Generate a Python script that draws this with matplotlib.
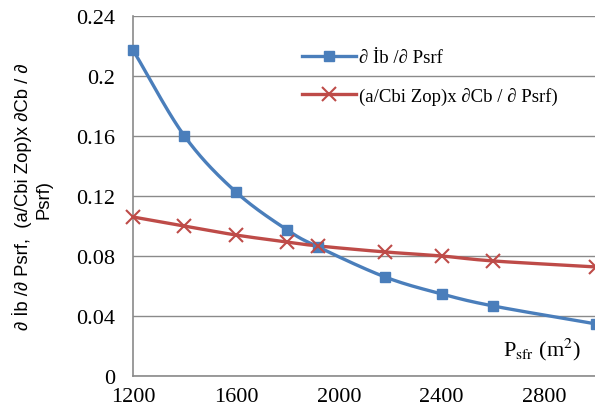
import numpy as np
import matplotlib
matplotlib.use("Agg")
from matplotlib import pyplot as plt

# values
p_sfr = [1200, 1400, 1600, 1800, 1920, 2180, 2400, 2600, 3000]
d_ib = [0.2173, 0.160, 0.1227, 0.0973, 0.086, 0.066, 0.0547, 0.0467, 0.0347]
d_cb = [0.106, 0.100, 0.094, 0.0893, 0.0867, 0.0827, 0.080, 0.0767, 0.0727]
y_ticks = [0, 0.04, 0.08, 0.12, 0.16, 0.2, 0.24]
y_tick_labels = ["0", "0.04", "0.08", "0.12", "0.16", "0.2", "0.24"]
x_ticks = [1200, 1600, 2000, 2400, 2800]
legend_labels = ["\u2202 \u0130b /\u2202 Psrf", "(a/Cbi Zop)x \u2202Cb / \u2202 Psrf)"]

BLUE = "#4a7ebb"
RED = "#be4b48"


def smooth(x, y, n=30):
    # catmull-rom through the points, like excel's smoothed line
    x = np.asarray(x, float)
    y = np.asarray(y, float)
    px = np.concatenate([[2*x[0]-x[1]], x, [2*x[-1]-x[-2]]])
    py = np.concatenate([[2*y[0]-y[1]], y, [2*y[-1]-y[-2]]])
    xs, ys = [], []
    t = np.linspace(0, 1, n)
    for i in range(1, len(px)-2):
        for arr, out in ((px, xs), (py, ys)):
            p0, p1, p2, p3 = arr[i-1], arr[i], arr[i+1], arr[i+2]
            out.extend(0.5*((2*p1) + (-p0+p2)*t + (2*p0-5*p1+4*p2-p3)*t**2
                            + (-p0+3*p1-3*p2+p3)*t**3))
    return xs, ys


plt.rcParams['font.family'] = ['Liberation Serif', 'DejaVu Serif']
plt.rcParams['mathtext.fontset'] = 'stix'

fig = plt.figure(figsize=(5.95, 4.10), dpi=100)
ax = fig.add_axes([133/595, 33/410, 463/595, 360/410])

sx, sy = smooth(p_sfr, d_ib)
ax.plot(sx, sy, color=BLUE, lw=2.4, zorder=3)
ax.plot(p_sfr, d_ib, ls="none", marker="s", ms=7.5, color=BLUE, zorder=4, clip_on=False)
sx, sy = smooth(p_sfr, d_cb)
ax.plot(sx, sy, color=RED, lw=2.4, zorder=3)
ax.plot(p_sfr, d_cb, ls="none", marker="x", ms=10, mew=1.5, color=RED, zorder=4, clip_on=False)

# legend handles
h1, = ax.plot([], [], color=BLUE, lw=2.4, marker="s", ms=7.5)
h2, = ax.plot([], [], color=RED, lw=2.4, marker="x", ms=10, mew=1.5)
ax.legend([h1, h2], legend_labels, loc="upper left", frameon=False,
          bbox_to_anchor=(302/595, 1-50/410), bbox_transform=fig.transFigure,
          fontsize=13.5, handlelength=2.9, handletextpad=0.15, labelspacing=1.1,
          borderpad=0, borderaxespad=0)

ax.set_xlim(1200, 3000)
ax.set_ylim(0, 0.24)
ax.set_xticks(x_ticks)
ax.set_yticks(y_ticks)
ax.set_yticklabels(y_tick_labels)
ax.tick_params(axis="both", length=0, labelsize=16)
ax.tick_params(axis="y", pad=13)
ax.tick_params(axis="x", pad=8)
ax.grid(axis="y", color="#8a8a8a", lw=1)
ax.set_axisbelow(True)
for s in ("top", "right"):
    ax.spines[s].set_visible(False)
for s in ("left", "bottom"):
    ax.spines[s].set_color("#8a8a8a")
    ax.spines[s].set_linewidth(1.2)

ax.text(2790, 0.018, r"P$_{\rm sfr}$ (m$^2$)", fontsize=16, ha="center", va="center")

fig.text(22/595, 1-197/410, "\u2202 \u0130b /\u2202 Psrf,  (a/Cbi Zop)x \u2202Cb / \u2202",
         rotation=90, ha="center", va="center", fontsize=13.3,
         family=["Liberation Sans", "DejaVu Sans"])
fig.text(44/595, 1-200/410, "Psrf)", rotation=90, ha="center", va="center", fontsize=13.3,
         family=["Liberation Sans", "DejaVu Sans"])

fig.savefig("out.png", dpi=100)
